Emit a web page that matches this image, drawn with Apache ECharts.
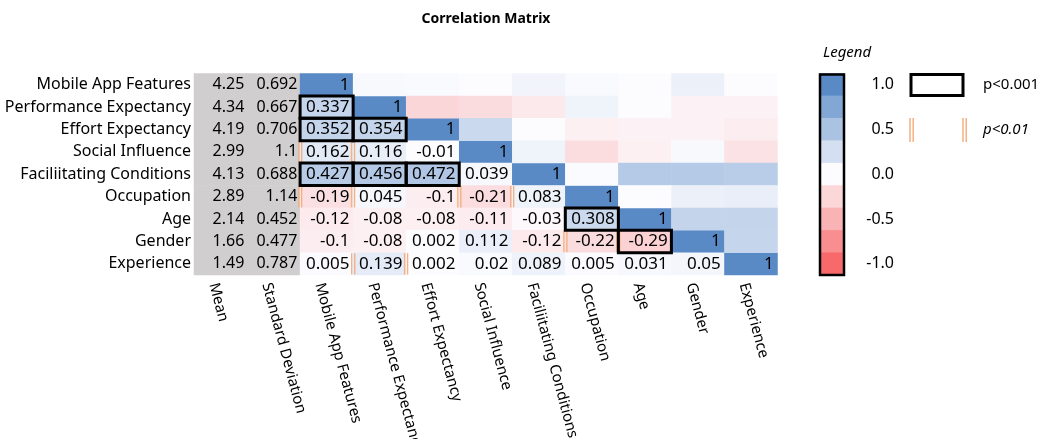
<!DOCTYPE html>
<html>
<head>
<meta charset="utf-8">
<script src="https://cdn.jsdelivr.net/npm/echarts@6/dist/echarts.min.js"></script>
<style>
html,body{margin:0;padding:0;background:#fff;}
#chart{width:1042px;height:439px;}
</style>
</head>
<body>
<div id="chart"></div>
<script>
// ---------- data ----------
const rowNames = ['Mobile App Features','Performance Expectancy','Effort Expectancy','Social Influence','Faciliitating Conditions','Occupation','Age','Gender','Experience'];
const statNames = ['Mean','Standard Deviation'];
const colNames = statNames.concat(rowNames);
const means = [4.25,4.34,4.19,2.99,4.13,2.89,2.14,1.66,1.49];
const sds = [0.692,0.667,0.706,1.1,0.688,1.14,0.452,0.477,0.787];
// lower triangle incl. diagonal: row i has values for columns 0..i
const lowerCorr = [
  [1],
  [0.337,1],
  [0.352,0.354,1],
  [0.162,0.116,-0.01,1],
  [0.427,0.456,0.472,0.039,1],
  [-0.19,0.045,-0.1,-0.21,0.083,1],
  [-0.12,-0.08,-0.08,-0.11,-0.03,0.308,1],
  [-0.1,-0.08,0.002,0.112,-0.12,-0.22,-0.29,1],
  [0.005,0.139,0.002,0.02,0.089,0.005,0.031,0.05,1]
];
// upper triangle (colour only): row i has values for columns i+1..8
const upperCorr = [
  [0.03,0.02,0,0.07,0.02,0,0.1,0],
  [-0.26,-0.22,-0.13,0.08,0,-0.07,-0.07],
  [0.31,-0.01,-0.08,-0.07,-0.07,-0.1],
  [0.08,-0.21,-0.08,0.03,-0.18],
  [0.01,0.44,0.44,0.41],
  [0,0.1,0.12],
  [0.35,0.35],
  [0.34]
];
// significance: [column variable, row variable]
const sigP001 = [[0,1],[0,2],[1,2],[0,4],[1,4],[2,4],[5,6],[6,7]];
const sigP01 = [[0,3],[0,5],[3,5],[5,7],[1,8]];
const legendSteps = [1,0.75,0.5,0.25,0,-0.25,-0.5,-0.75,-1];
const legendTickLabels = ['1.0','0.75','0.5','0.25','0.0','-0.25','-0.5','-0.75','-1.0'];

// ---------- build series data ----------
const FONT = 'Noto Sans';
const nStat = statNames.length;
const statData = [];
rowNames.forEach((r,i)=>{
  statData.push([0,i,means[i]]);
  statData.push([1,i,sds[i]]);
});
const lowerData = [];
lowerCorr.forEach((row,i)=>row.forEach((v,j)=>lowerData.push([j+nStat,i,v])));
const upperData = [];
upperCorr.forEach((row,i)=>row.forEach((v,k)=>upperData.push([i+1+k+nStat,i,v])));
const sigData = [];
sigP001.forEach(p=>sigData.push([p[0]+nStat,p[1],1]));
sigP01.forEach(p=>sigData.push([p[0]+nStat,p[1],2]));
const legendData = legendSteps.map((v,i)=>[0,i,v]);

const chart = echarts.init(document.getElementById('chart'));
const ORANGE = '#f4b183';

function renderSig(params, api){
  const x = api.value(0), y = api.value(1), t = api.value(2);
  const c = api.coord([x,y]);
  const s = api.size([1,1]);
  const x0 = c[0]-s[0]/2, y0 = c[1]-s[1]/2, x1 = x0+s[0], y1 = y0+s[1];
  if (t === 1) {
    return {type:'rect', shape:{x:x0,y:y0,width:s[0],height:s[1]},
      style:{fill:'none',stroke:'#000',lineWidth:3}, z2:10};
  }
  const mk = (xx)=>({type:'line', shape:{x1:xx,y1:y0+0.5,x2:xx,y2:y1-0.5},
      style:{stroke:ORANGE,lineWidth:1.4}});
  return {type:'group', children:[mk(x0-1.4),mk(x0+1.6),mk(x1-1.6),mk(x1+1.4)]};
}

const option = {
  animation:false,
  textStyle:{fontFamily:FONT},
  grid:[
    {left:194, top:73.5, width:583.5, height:201.6, containLabel:false, outerBoundsMode:'none'},
    {left:820, top:73.5, width:24, height:201.6, containLabel:false, outerBoundsMode:'none'}
  ],
  xAxis:[
    {type:'category', gridIndex:0, data:colNames, position:'bottom',
      axisLine:{show:false}, axisTick:{show:false}, splitLine:{show:false},
      axisLabel:{interval:0, rotate:-75, align:'left', verticalAlign:'top', margin:6,
        fontSize:15, color:'#000', fontFamily:FONT}},
    {type:'category', gridIndex:1, data:[''], axisLine:{show:false}, axisTick:{show:false},
      axisLabel:{show:false}, splitLine:{show:false}}
  ],
  yAxis:[
    {type:'category', gridIndex:0, data:rowNames, inverse:true,
      axisLine:{show:false}, axisTick:{show:false}, splitLine:{show:false},
      axisLabel:{margin:3, fontSize:16, color:'#000', fontFamily:FONT}},
    {type:'category', gridIndex:1, data:legendTickLabels, inverse:true, position:'right',
      axisLine:{show:false}, axisTick:{show:false}, splitLine:{show:false},
      axisLabel:{margin:50, align:'right', fontSize:16, color:'#000', fontFamily:FONT,
        formatter:(v,i)=> (i%2===0 ? v : '')}}
  ],
  visualMap:{type:'continuous', show:false, min:-1, max:1, dimension:2,
    seriesIndex:[1,2,4], inRange:{color:['#F8696B','#FCFCFF','#5A8AC6']}},
  series:[
    {type:'heatmap', xAxisIndex:0, yAxisIndex:0, data:statData,
      itemStyle:{color:'#d0cece'},
      label:{show:true, position:'insideRight', distance:3, fontSize:16, color:'#000', fontFamily:FONT,
        formatter:p=>String(p.value[2])},
      emphasis:{disabled:true}},
    {type:'heatmap', xAxisIndex:0, yAxisIndex:0, data:lowerData,
      label:{show:true, position:'insideRight', distance:4, fontSize:17, color:'#000', fontFamily:FONT,
        formatter:p=>String(p.value[2])},
      emphasis:{disabled:true}},
    {type:'heatmap', xAxisIndex:0, yAxisIndex:0, data:upperData,
      label:{show:false}, emphasis:{disabled:true}},
    {type:'custom', xAxisIndex:0, yAxisIndex:0, data:sigData, renderItem:renderSig, z:10, silent:true},
    {type:'heatmap', xAxisIndex:1, yAxisIndex:1, data:legendData,
      label:{show:false}, emphasis:{disabled:true}}
  ],
  graphic:[
    {type:'text', x:486, y:19, style:{text:'Correlation Matrix', textAlign:'center', textVerticalAlign:'middle',
      font:'bold 14px "Noto Sans"', fill:'#000'}},
    {type:'text', x:823, y:53, style:{text:'Legend', textAlign:'left', textVerticalAlign:'middle',
      font:'italic 15px "Noto Sans"', fill:'#000'}},
    {type:'rect', shape:{x:820, y:74.5, width:24, height:200.6}, style:{fill:'none', stroke:'#000', lineWidth:2.5}, z:20},
    {type:'rect', shape:{x:911, y:74.5, width:52, height:21}, style:{fill:'none', stroke:'#000', lineWidth:3}, z:20},
    {type:'text', x:983, y:85, style:{text:'p<0.001', textAlign:'left', textVerticalAlign:'middle',
      font:'15px "Noto Sans"', fill:'#000'}},
    {type:'line', shape:{x1:910,y1:118,x2:910,y2:142}, style:{stroke:ORANGE,lineWidth:1.5}},
    {type:'line', shape:{x1:913.2,y1:118,x2:913.2,y2:142}, style:{stroke:ORANGE,lineWidth:1.5}},
    {type:'line', shape:{x1:963,y1:118,x2:963,y2:142}, style:{stroke:ORANGE,lineWidth:1.5}},
    {type:'line', shape:{x1:966.2,y1:118,x2:966.2,y2:142}, style:{stroke:ORANGE,lineWidth:1.5}},
    {type:'text', x:983, y:130, style:{text:'p<0.01', textAlign:'left', textVerticalAlign:'middle',
      font:'italic 15px "Noto Sans"', fill:'#000'}}
  ]
};
chart.setOption(option);
</script>
</body>
</html>
